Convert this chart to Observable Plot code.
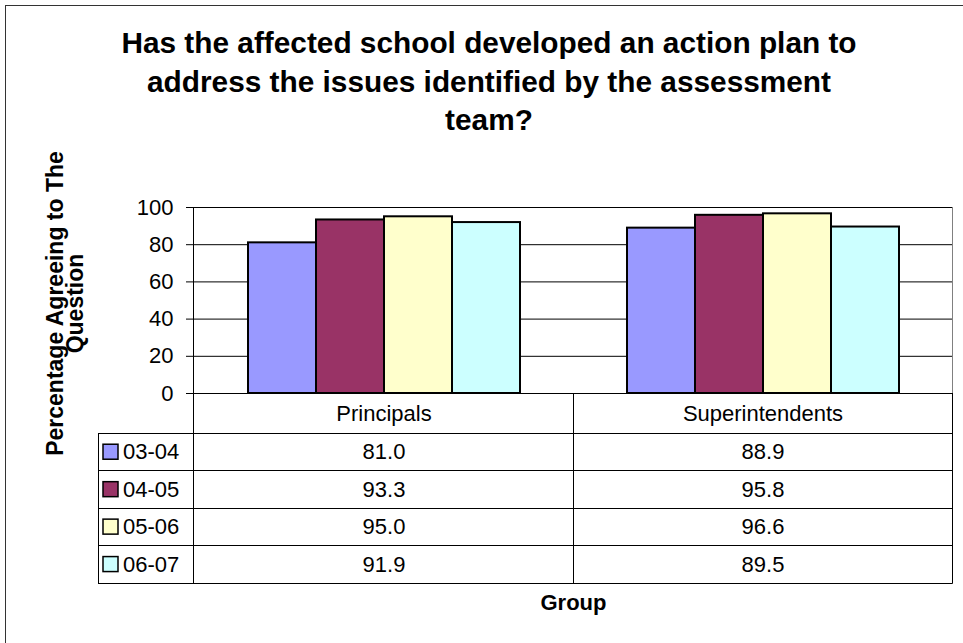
<!DOCTYPE html>
<html><head><meta charset="utf-8">
<script src="https://cdn.jsdelivr.net/npm/d3@7"></script>
<script src="https://cdn.jsdelivr.net/npm/@observablehq/plot@0.6"></script>
<style>
body{margin:0;background:#fff;}
#wrap{position:relative;width:963px;height:643px;overflow:hidden;background:#fff;font-family:"Liberation Sans",Arial,sans-serif;color:#000;}
#wrap svg{position:absolute;left:0;top:0;}
#outer{position:absolute;left:5px;top:5px;width:1000px;height:700px;border:1.5px solid #333;box-sizing:border-box;}
#title{position:absolute;left:6px;top:24px;width:966px;text-align:center;font-weight:bold;font-size:29.8px;line-height:38.5px;}
</style></head><body><div id="wrap"></div>
<script>
const titleLines = ["Has the affected school developed an action plan to", "address the issues identified by the assessment", "team?"];
const yTitleLines = ["Percentage Agreeing to The", "Question"];
const xTitle = "Group";
const groups = ["Principals", "Superintendents"];
const series = ["03-04", "04-05", "05-06", "06-07"];
const principals = [81.0, 93.3, 95.0, 91.9];
const superintendents = [88.9, 95.8, 96.6, 89.5];
const colors = ["#9999FF", "#993366", "#FFFFCC", "#CCFFFF"];
const yTicks = [0, 20, 40, 60, 80, 100];

const W = 963, H = 643, mL = 193, mR = 11, mT = 207, mB = 250;
const headerH = 40, rowH = 37.45, legendLeft = 98;
const FONT = "'Liberation Sans', Arial, sans-serif";

const values = {Principals: principals, Superintendents: superintendents};
const data = groups.flatMap(g => series.map((s, i) => ({group: g, series: s, value: values[g][i]})));

const wrap = document.getElementById("wrap");

const textMarks = series.map((s, i) => Plot.text(data.filter(d => d.series === s), {
  fx: "group", text: d => d.value.toFixed(1), frameAnchor: "bottom",
  dy: headerH + rowH * (i + 0.5), fontSize: 22, lineAnchor: "middle", textAnchor: "middle"
}));

const yTitleMarks = yTitleLines.map((t, i) => Plot.text([{g: groups[0], t}], {
  fx: "g", text: "t", frameAnchor: "left", dx: -139 + 20.5 * i, dy: 3, rotate: -90,
  fontWeight: "bold", fontSize: 23, lineAnchor: "middle", textAnchor: "middle"
}));

const chart = Plot.plot({
  width: W, height: H,
  marginTop: mT, marginBottom: mB, marginLeft: mL, marginRight: mR,
  style: {fontFamily: FONT, fontSize: "22px", background: "transparent", color: "#000"},
  fx: {domain: groups, padding: 0, axis: null, label: null},
  x: {domain: series, paddingInner: 0, paddingOuter: 0.766, axis: null, label: null},
  y: {domain: [0, 100], ticks: yTicks, tickSize: 8, tickPadding: 13, label: null},
  color: {domain: series, range: colors},
  marks: [
    Plot.ruleY(yTicks, {stroke: "#000", strokeWidth: 1}),
    Plot.barY(data, {fx: "group", x: "series", y: "value", fill: "series", stroke: "#000", strokeWidth: 2, inset: 0}),
    Plot.text(groups, {fx: d => d, text: d => d, frameAnchor: "bottom", dy: headerH / 2, fontSize: 22, lineAnchor: "middle"}),
    ...textMarks,
    ...yTitleMarks,
    Plot.text([{g: groups[0], t: xTitle}], {fx: "g", text: "t", frameAnchor: "bottom-right", dy: 209,
      fontWeight: "bold", fontSize: 22, lineAnchor: "middle", textAnchor: "middle"})
  ]
});
wrap.appendChild(chart);

// table grid & legend column (data table under the chart)
const ov = d3.select(wrap).append("svg").attr("width", W).attr("height", H);
const crisp = v => Math.round(v) + 0.5;
const yBase = H - mB;
const tableTop = yBase + headerH;
const tableBottom = tableTop + rowH * series.length;
const xMid = mL + (W - mL - mR) / 2, xRight = W - mR;
const line = (x1, y1, x2, y2, stroke) => ov.append("line").attr("x1", x1).attr("y1", y1).attr("x2", x2).attr("y2", y2)
  .attr("stroke", stroke || "#000").attr("stroke-width", 1);
for (let k = 0; k <= series.length; k++) {
  const y = crisp(tableTop + rowH * k);
  line(legendLeft, y, xRight + 0.5, y);
}
line(crisp(legendLeft), tableTop, crisp(legendLeft), crisp(tableBottom));
line(crisp(mL), mT, crisp(mL), crisp(tableBottom));
line(crisp(xMid), yBase, crisp(xMid), crisp(tableBottom));
line(crisp(xRight), yBase, crisp(xRight), crisp(tableBottom));
line(crisp(xRight), mT, crisp(xRight), yBase, "#808080");
series.forEach((s, i) => {
  const cy = tableTop + rowH * (i + 0.5);
  ov.append("rect").attr("x", legendLeft + 5).attr("y", cy - 7.5).attr("width", 15).attr("height", 15)
    .attr("fill", colors[i]).attr("stroke", "#000").attr("stroke-width", 1.5);
  ov.append("text").attr("x", legendLeft + 25).attr("y", cy).attr("dy", "0.35em")
    .attr("font-family", FONT).attr("font-size", 22).text(s);
});

const outer = document.createElement("div"); outer.id = "outer"; wrap.appendChild(outer);
const title = document.createElement("div"); title.id = "title";
title.innerHTML = titleLines.map(t => t.replace(/&/g, "&amp;").replace(/</g, "&lt;")).join("<br>");
wrap.appendChild(title);
</script></body></html>
